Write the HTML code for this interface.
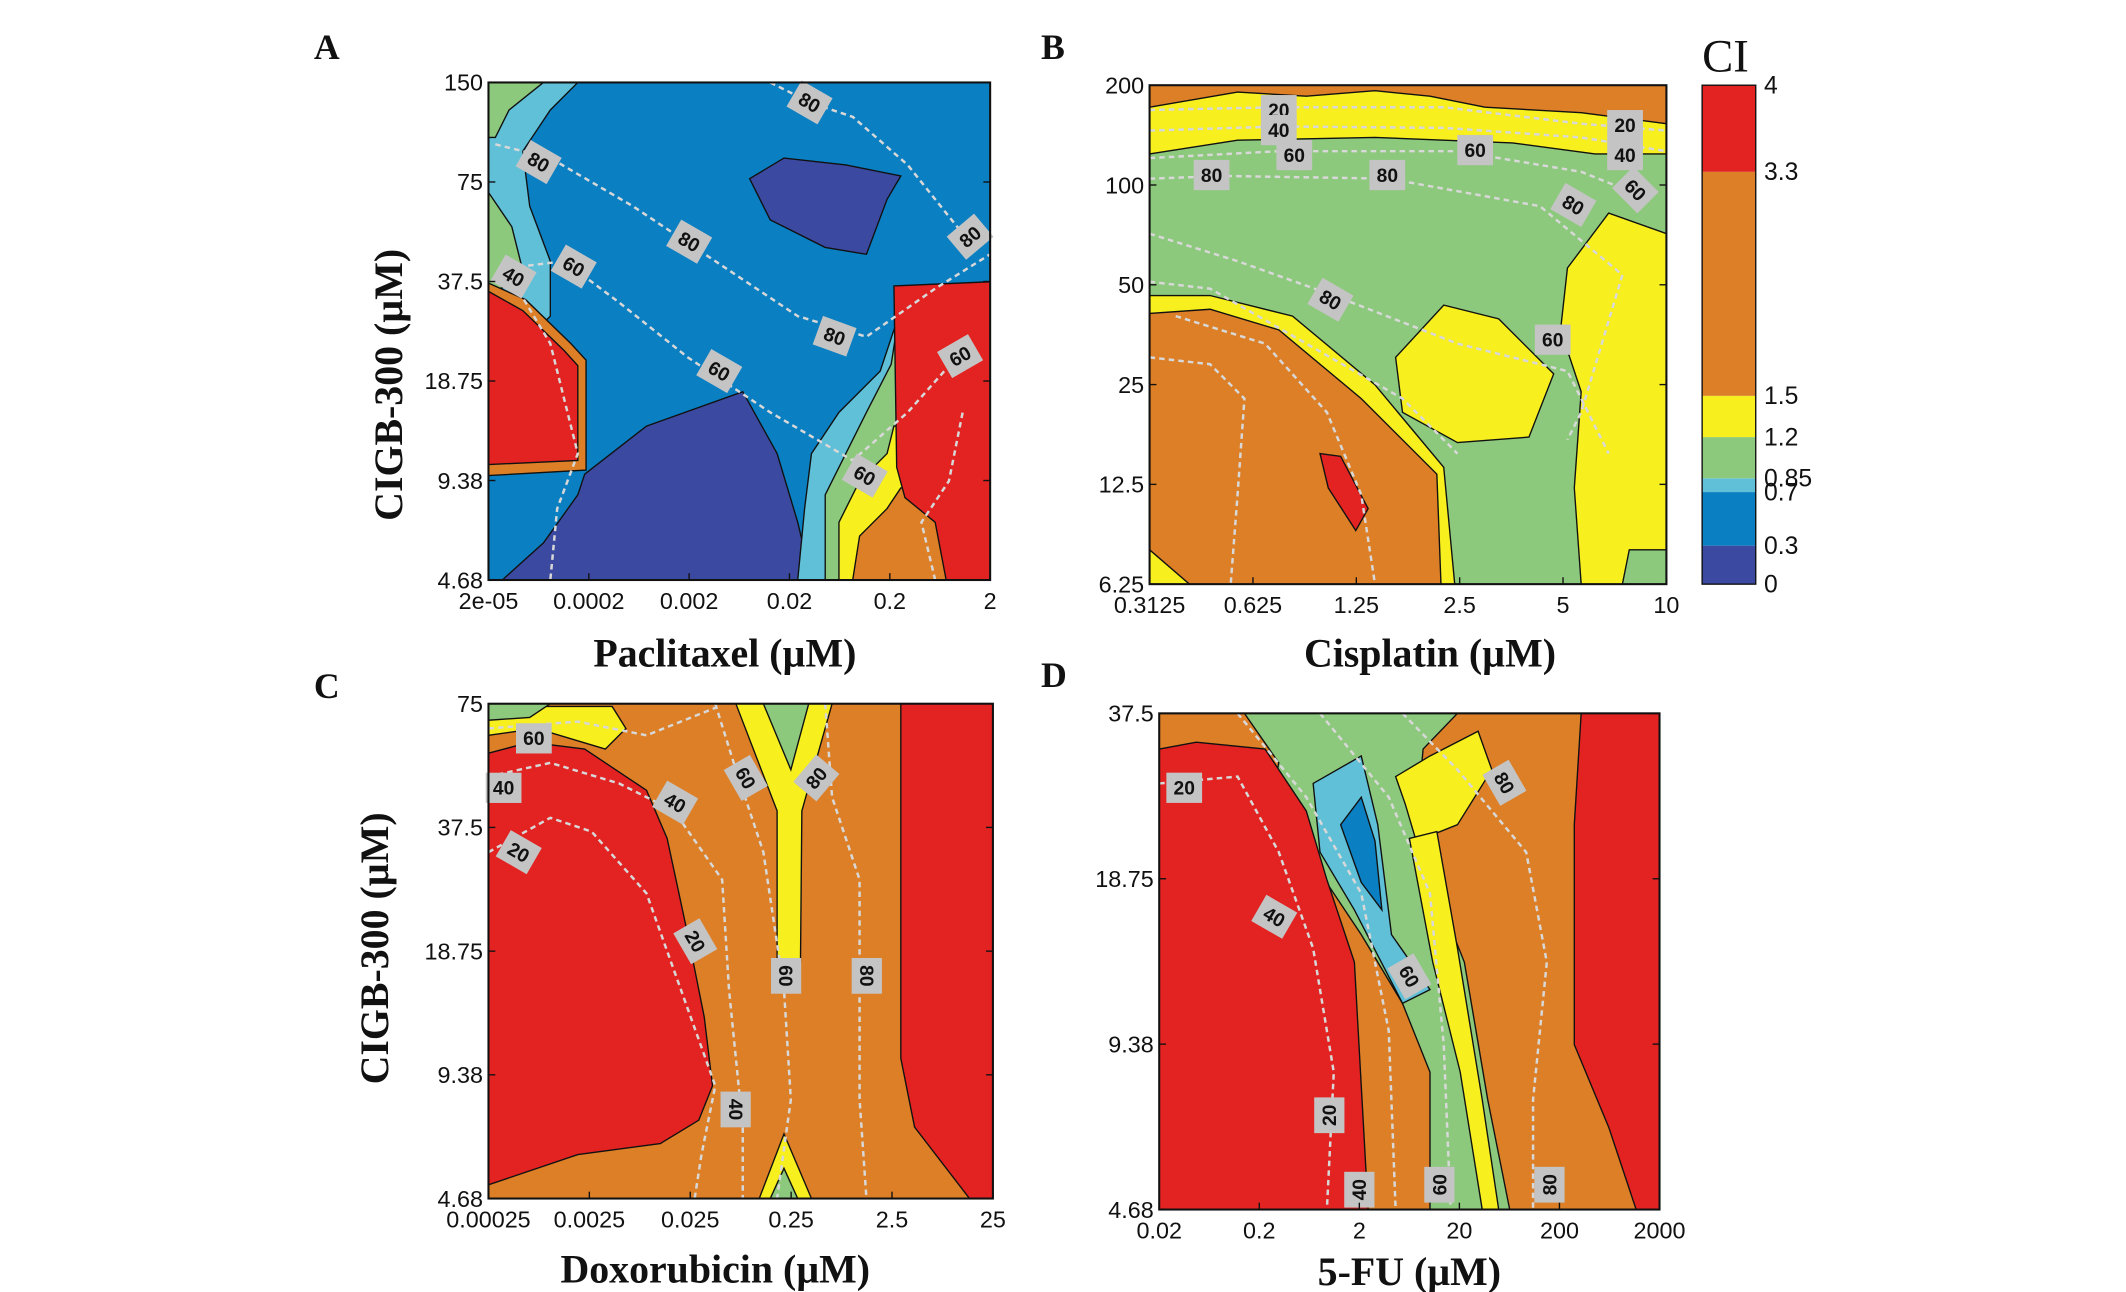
<!DOCTYPE html>
<html><head><meta charset="utf-8">
<style>
html,body{margin:0;padding:0;background:#fff;}
svg{display:block;}
.tk{font-family:"Liberation Sans",sans-serif;font-size:17px;fill:#111;}
.ax{font-family:"Liberation Serif",serif;font-size:29px;font-weight:bold;fill:#111;}
.pl{font-family:"Liberation Serif",serif;font-size:26px;font-weight:bold;fill:#111;}
.cl{font-family:"Liberation Sans",sans-serif;font-size:14px;font-weight:bold;fill:#111;}
.dl{fill:none;stroke:#d8d8d8;stroke-width:1.8;stroke-dasharray:4 3;}
</style></head>
<body>
<svg id="fig" width="2126" height="1292" viewBox="0 0 1546 940" xmlns="http://www.w3.org/2000/svg">
<g fill-rule="evenodd" stroke="#111" stroke-width="1">
<g>
<rect x="355" y="60" width="365" height="362" fill="#0a7fc2"/>
<polygon fill="#5fc0d8" points="355,60 420,60 400,80 380,110 385,150 400,190 400,230 380,250 355,250"/>
<polygon fill="#8cc97c" points="355,60 395,60 370,80 360,100 355,100"/>
<polygon fill="#8cc97c" points="355,140 372,165 382,205 355,212"/>
<polygon fill="#dc7f27" points="355,206 382,218 415,250 426,262 426,342 355,346"/>
<polygon fill="#e32222" points="355,212 380,226 410,255 420,266 420,335 355,338"/>
<polygon fill="#3b4aa0" points="545,130 570,115 615,120 655,128 645,145 630,185 600,180 560,160"/>
<polygon fill="#3b4aa0" points="425,345 470,310 540,285 565,330 580,380 590,422 365,422 395,395 420,360"/>
<polygon fill="#5fc0d8" points="580,422 585,370 590,330 610,300 640,270 650,240 660,215 720,205 720,422"/>
<polygon fill="#8cc97c" points="600,422 600,360 615,330 630,300 648,265 655,220 720,210 720,422"/>
<polygon fill="#f7ef1e" points="610,422 610,380 625,350 645,330 650,310 720,310 720,422"/>
<polygon fill="#dc7f27" points="620,422 625,390 645,370 655,355 720,350 720,422"/>
<polygon fill="#e32222" points="650,208 720,205 720,422 688,422 680,380 658,362 652,340"/>
</g>
<g>
<rect x="836" y="62" width="376" height="363" fill="#8cc97c"/>
<polygon fill="#f7ef1e" points="836,62 1212,62 1212,112 1160,112 1100,104 1000,100 900,102 836,112"/>
<polygon fill="#dc7f27" points="836,62 1212,62 1212,90 1150,82 1080,78 1040,70 1000,66 950,70 900,67 836,78"/>
<polygon fill="#f7ef1e" points="1140,195 1170,155 1212,170 1212,425 1150,425 1145,355 1150,285 1135,240"/>
<polygon fill="#8cc97c" points="1180,425 1185,400 1212,400 1212,425"/>
<polygon fill="#f7ef1e" points="1015,260 1050,222 1090,232 1130,272 1112,318 1060,322 1020,300"/>
<polygon fill="#f7ef1e" points="836,215 880,215 940,230 1000,280 1050,340 1058,425 836,425"/>
<polygon fill="#dc7f27" points="836,228 880,225 930,240 990,290 1045,345 1048,425 865,425 836,400"/>
<polygon fill="#e32222" points="960,330 975,332 995,370 986,386 966,355"/>
</g>
<g>
<rect x="355" y="512" width="367" height="360" fill="#dc7f27"/>
<polygon fill="#f7ef1e" points="355,514 445,514 455,530 440,545 390,530 355,535"/>
<polygon fill="#8cc97c" points="355,512 400,512 385,522 355,524"/>
<polygon fill="#e32222" points="355,548 385,540 425,545 470,575 485,610 500,680 512,740 518,790 508,815 480,832 420,840 355,862"/>
<polygon fill="#f7ef1e" points="535,512 605,512 583,590 582,700 565,700 565,590"/>
<polygon fill="#8cc97c" points="555,512 588,512 575,560"/>
<polygon fill="#f7ef1e" points="552,872 570,825 590,872"/>
<polygon fill="#8cc97c" points="560,872 570,850 580,872"/>
<polygon fill="#e32222" points="655,512 722,512 722,872 705,872 665,820 655,770"/>
</g>
<g>
<rect x="843" y="519" width="364" height="361" fill="#dc7f27"/>
<polygon fill="#8cc97c" points="905,519 1060,519 1035,545 1030,600 1045,650 1065,700 1082,800 1098,880 1040,880 1040,780 1020,730 990,680 950,620 925,580 930,555"/>
<polygon fill="#f7ef1e" points="1015,565 1040,550 1075,532 1085,560 1060,600 1030,612 1022,585"/>
<polygon fill="#f7ef1e" points="1025,610 1045,605 1060,690 1078,800 1090,880 1078,880 1062,780 1042,700"/>
<polygon fill="#5fc0d8" points="955,570 990,550 1002,600 1012,680 1040,720 1020,730 985,662 960,620"/>
<polygon fill="#0a7fc2" points="975,600 990,580 1000,612 1005,662 990,642"/>
<polygon fill="#e32222" points="843,545 870,540 920,545 950,590 965,640 985,700 995,880 843,880"/>
<polygon fill="#e32222" points="1150,519 1207,519 1207,880 1190,880 1170,820 1145,760 1145,600"/>
</g>
</g>
<g>
<polyline class="dl" points="360,105 400,115 460,150 520,190 580,230 630,245 680,210 720,185"/>
<polyline class="dl" points="560,60 590,75 620,85 660,120 700,170"/>
<polyline class="dl" points="370,195 410,190 450,220 500,260 560,300 620,335 660,300 700,255"/>
<polyline class="dl" points="370,200 400,250 420,330 405,370 400,422"/>
<polyline class="dl" points="680,422 670,380 690,350 700,300"/>
<polyline class="dl" points="836,80 930,78 1050,78 1150,90 1212,95"/>
<polyline class="dl" points="836,95 930,92 1050,93 1150,100 1212,110"/>
<polyline class="dl" points="836,115 930,110 1060,110 1150,125 1200,145"/>
<polyline class="dl" points="836,130 890,128 1010,130 1120,150 1180,200 1150,300 1140,320"/>
<polyline class="dl" points="836,170 900,190 970,215 1060,250 1140,270 1170,330"/>
<polyline class="dl" points="836,205 880,210 950,250 1020,290 1060,330"/>
<polyline class="dl" points="836,260 880,265 905,290 900,360 895,425"/>
<polyline class="dl" points="855,230 920,250 965,300 990,360 1000,425"/>
<polyline class="dl" points="355,530 420,525 470,535 520,515"/>
<polyline class="dl" points="355,565 400,555 450,570 490,590 525,640 530,720 540,820 540,872"/>
<polyline class="dl" points="355,620 400,595 430,605 470,650 495,720 520,790 510,840 505,872"/>
<polyline class="dl" points="520,512 535,560 555,620 570,720 575,800 565,872"/>
<polyline class="dl" points="600,512 605,580 625,640 625,720 625,800 630,872"/>
<polyline class="dl" points="843,570 900,565 930,620 955,690 970,780 965,880"/>
<polyline class="dl" points="900,519 950,580 990,650 1010,750 1015,880"/>
<polyline class="dl" points="960,519 1010,580 1040,650 1050,760 1055,880"/>
<polyline class="dl" points="1020,519 1060,560 1110,620 1125,700 1115,800 1115,880"/>
</g>
<g id="dyn"></g>
<g id="cbar"></g>
<text class="ax" x="1238" y="52" style="font-size:34px;font-weight:normal">CI</text>
<text class="pl" x="228" y="43">A</text>
<text class="pl" x="757" y="43">B</text>
<text class="pl" x="228" y="508">C</text>
<text class="pl" x="757" y="500">D</text>
<text class="ax" x="527" y="485" text-anchor="middle">Paclitaxel (µM)</text>
<text class="ax" x="1040" y="485" text-anchor="middle">Cisplatin (µM)</text>
<text class="ax" x="520" y="933" text-anchor="middle">Doxorubicin (µM)</text>
<text class="ax" x="1025" y="935" text-anchor="middle">5-FU (µM)</text>
<text class="ax" transform="translate(292,280) rotate(-90)" text-anchor="middle">CIGB-300 (µM)</text>
<text class="ax" transform="translate(282,690) rotate(-90)" text-anchor="middle">CIGB-300 (µM)</text>
</svg>
<script>
const NS="http://www.w3.org/2000/svg";
const panelA_x=["2e-05","0.0002","0.002","0.02","0.2","2"];
const panelA_y=["150","75","37.5","18.75","9.38","4.68"];
const panelB_x=["0.3125","0.625","1.25","2.5","5","10"];
const panelB_y=["200","100","50","25","12.5","6.25"];
const panelC_x=["0.00025","0.0025","0.025","0.25","2.5","25"];
const panelC_y=["75","37.5","18.75","9.38","4.68"];
const panelD_x=["0.02","0.2","2","20","200","2000"];
const panelD_y=["37.5","18.75","9.38","4.68"];
const ciLevels=[0,0.3,0.7,0.85,1.2,1.5,3.3,4];
const ciLabels=["0","0.3","0.7","0.85","1.2","1.5","3.3","4"];
const ciColors=["#3b4aa0","#0a7fc2","#5fc0d8","#8cc97c","#f7ef1e","#dc7f27","#e32222"];
const labelPanels=["a","a","a","a","a","a","a","a","a","a","b","b","b","b","b","b","b","b","b","b","b","b","c","c","c","c","c","c","c","c","c","c","d","d","d","d","d","d","d","d"];
const labelValues=[80,80,80,60,80,80,60,60,60,40,20,40,60,80,80,60,80,60,20,40,60,80,60,40,20,40,60,80,20,40,60,80,20,40,60,80,20,40,60,80];
const labelFx=[0.64,0.1,0.4,0.17,0.96,0.69,0.46,0.94,0.75,0.05,0.25,0.25,0.28,0.12,0.46,0.63,0.35,0.78,0.92,0.92,0.94,0.82,0.09,0.37,0.06,0.03,0.51,0.65,0.41,0.49,0.59,0.75,0.05,0.23,0.5,0.69,0.34,0.4,0.56,0.78];
const labelFy=[0.04,0.16,0.32,0.37,0.31,0.51,0.58,0.55,0.79,0.39,0.05,0.09,0.14,0.18,0.18,0.13,0.43,0.51,0.08,0.14,0.21,0.24,0.07,0.2,0.3,0.17,0.15,0.15,0.48,0.82,0.55,0.55,0.15,0.41,0.53,0.14,0.81,0.96,0.95,0.95];
const labelAngle=[30,30,30,30,-40,20,30,-30,30,30,0,0,0,0,0,0,30,0,0,0,45,30,0,30,30,0,60,-50,60,90,90,90,0,30,60,60,-90,-90,-90,-90];
const panels={a:[355,60,365,362,panelA_x,panelA_y],b:[836,62,376,363,panelB_x,panelB_y],c:[355,512,367,360,panelC_x,panelC_y],d:[843,519,364,361,panelD_x,panelD_y]};
const dyn=document.getElementById('dyn');
function mk(tag,attrs,parent){const e=document.createElementNS(NS,tag);for(const k in attrs)e.setAttribute(k,attrs[k]);(parent||dyn).appendChild(e);return e;}
function xPos(p,i){const P=panels[p];return P[0]+P[2]*i/(P[4].length-1);}
function yPos(p,i){const P=panels[p];return P[1]+P[3]*i/(P[5].length-1);}
labelValues.forEach((v,i)=>{
  const P=panels[labelPanels[i]];
  const x=P[0]+labelFx[i]*P[2], y=P[1]+labelFy[i]*P[3];
  const g=mk('g',{transform:`translate(${x},${y}) rotate(${labelAngle[i]})`});
  
  
  mk('rect',{x:-13,y:-11,width:26,height:22,fill:'#c4c4c4'},g);
  const t=mk('text',{x:0,y:5,'text-anchor':'middle',class:'cl'},g);
  t.textContent=v;
});
for(const p in panels){
  const P=panels[p];
  const fr=mk('rect',{x:P[0],y:P[1],width:P[2],height:P[3],fill:'none',stroke:'#111','stroke-width':1.5});
  
  
  P[4].forEach((t,i)=>{
    const x=xPos(p,i);
    mk('line',{x1:x,x2:x,y1:P[1]+P[3],y2:P[1]+P[3]-5,stroke:'#111'});
    const tx=mk('text',{x:x,y:P[1]+P[3]+21,'text-anchor':'middle',class:'tk'});
    tx.textContent=t;
    
    
  });
  P[5].forEach((t,i)=>{
    const y=yPos(p,i);
    mk('line',{x1:P[0],x2:P[0]+5,y1:y,y2:y,stroke:'#111'});
    mk('line',{x1:P[0]+P[2],x2:P[0]+P[2]-5,y1:y,y2:y,stroke:'#111'});
    const ty=mk('text',{x:P[0]-4,y:y+6,'text-anchor':'end',class:'tk'});
    ty.textContent=t;
    
    
  });
}
const cb=document.getElementById('cbar');
const cbTop=62,cbBot=425,cbX=1238,cbW=39;
const cbPos=[425,397,358,348,318,288,125,62];
for(let i=0;i<ciColors.length;i++){
  const r=mk('rect',{x:cbX,y:cbPos[i+1],width:cbW,height:cbPos[i]-cbPos[i+1],fill:ciColors[i]},cb);
  
  
}
mk('rect',{x:cbX,y:cbTop,width:cbW,height:cbBot-cbTop,fill:'none',stroke:'#111'},cb);
ciLabels.forEach((l,i)=>{
  const t=mk('text',{x:cbX+cbW+6,y:cbPos[i]+6,class:'tk',style:'font-size:18px'},cb);
  t.textContent=l;
  
  
});
</script>
</body></html>
